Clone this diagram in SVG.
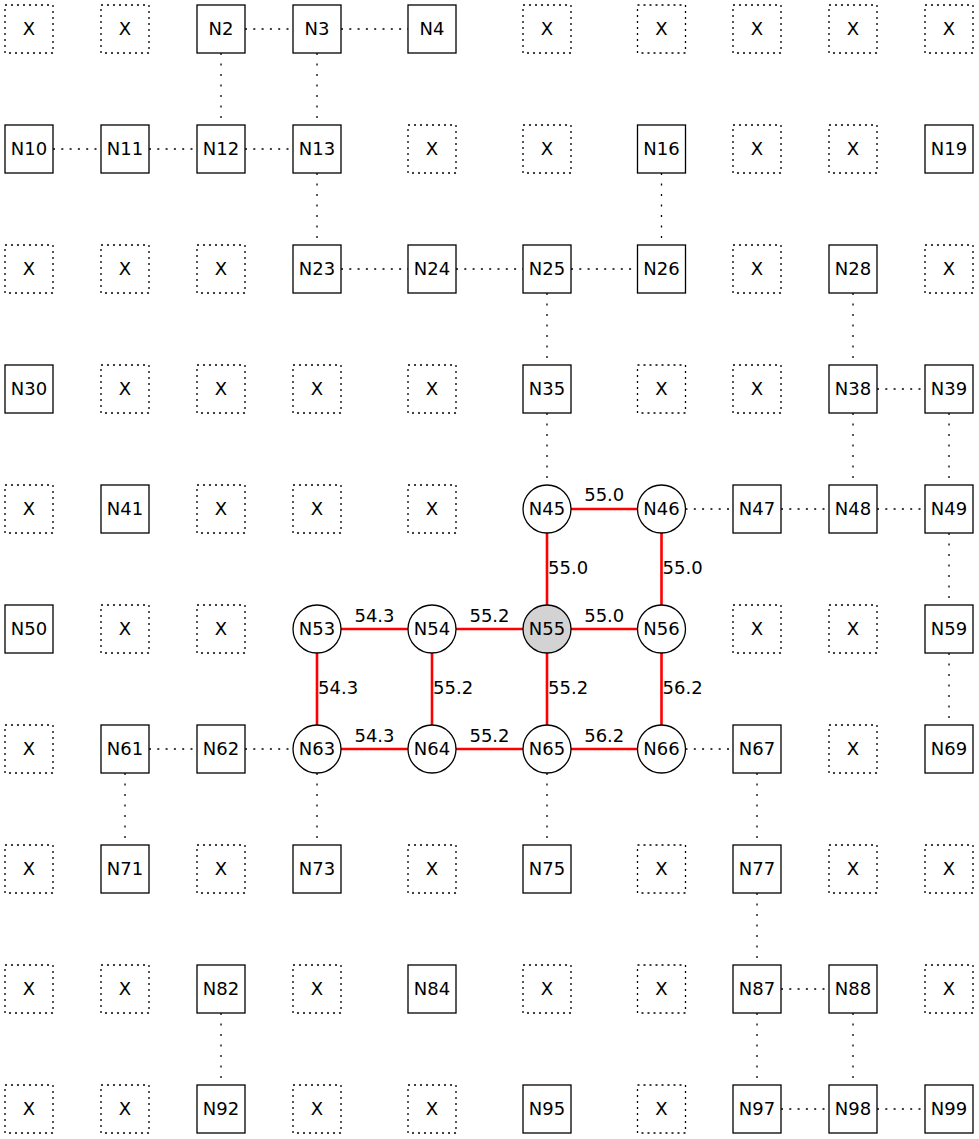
<svg xmlns="http://www.w3.org/2000/svg" width="979" height="1139" viewBox="0 0 979 1139">
<style>
text{font-family:"DejaVu Sans","Liberation Sans",sans-serif;font-size:18px;fill:#000}
.n text,.x text{text-anchor:middle}
.n rect,.n circle{fill:#fff;stroke:#000;stroke-width:1.3}
.x rect{fill:#fff;stroke:#000;stroke-width:1.3;stroke-dasharray:2,4}
.n circle.sel{fill:#d3d3d3}
.dh{stroke:#000;stroke-width:1.3;stroke-dasharray:2,6.3;fill:none}
.dv{stroke:#000;stroke-width:1.3;stroke-dasharray:2,8.5;fill:none}
.r{stroke:#f00;stroke-width:2.6;fill:none}
.lh{text-anchor:middle}
.lv{text-anchor:start}
</style>
<g id="connectors">
<path class="dh" d="M245,29H293M341,29H408M53,149H101M149,149H197M245,149H293M341,269H408M456,269H523M571,269H637.5M877,389H925M685.5,509H733M781,509H829M877,509H925M149,749H197M245,749H293M685.5,749H733M781,989H829M781,1109H829M877,1109H925"/>
<path class="dv" d="M221,53V125M317,53V125M317,173V245M661.5,173V245M547,293V365M853,293V365M547,413V485M853,413V485M949,413V485M949,533V605M949,653V725M125,773V845M317,773V845M547,773V845M757,773V845M757,893V965M221,1013V1085M757,1013V1085M853,1013V1085"/>
<g id="red-edges">
<path class="r" d="M571,509H637.5M547,533V605M661.5,533V605M341,629H408M456,629H523M571,629H637.5M317,653V725M432,653V725M547,653V725M661.5,653V725M341,749H408M456,749H523M571,749H637.5"/>
<text class="lh" x="604.25" y="501">55.0</text>
<text class="lv" x="548" y="574">55.0</text>
<text class="lv" x="662.5" y="574">55.0</text>
<text class="lh" x="374.5" y="621.5">54.3</text>
<text class="lh" x="489.5" y="621.5">55.2</text>
<text class="lh" x="604.25" y="621.5">55.0</text>
<text class="lv" x="318" y="694">54.3</text>
<text class="lv" x="433" y="694">55.2</text>
<text class="lv" x="548" y="694">55.2</text>
<text class="lv" x="662.5" y="694">56.2</text>
<text class="lh" x="374.5" y="741.5">54.3</text>
<text class="lh" x="489.5" y="741.5">55.2</text>
<text class="lh" x="604.25" y="741.5">56.2</text>
</g>
</g>
<g id="nodes">
<!-- row 0 -->
<g id="x0" class="x"><rect x="5" y="5" width="48" height="48"/><text x="29" y="34.5">X</text></g>
<g id="x1" class="x"><rect x="101" y="5" width="48" height="48"/><text x="125" y="34.5">X</text></g>
<g id="N2" class="n"><rect x="197" y="5" width="48" height="48"/><text x="221" y="34.5">N2</text></g>
<g id="N3" class="n"><rect x="293" y="5" width="48" height="48"/><text x="317" y="34.5">N3</text></g>
<g id="N4" class="n"><rect x="408" y="5" width="48" height="48"/><text x="432" y="34.5">N4</text></g>
<g id="x5" class="x"><rect x="523" y="5" width="48" height="48"/><text x="547" y="34.5">X</text></g>
<g id="x6" class="x"><rect x="637.5" y="5" width="48" height="48"/><text x="661.5" y="34.5">X</text></g>
<g id="x7" class="x"><rect x="733" y="5" width="48" height="48"/><text x="757" y="34.5">X</text></g>
<g id="x8" class="x"><rect x="829" y="5" width="48" height="48"/><text x="853" y="34.5">X</text></g>
<g id="x9" class="x"><rect x="925" y="5" width="48" height="48"/><text x="949" y="34.5">X</text></g>
<!-- row 1 -->
<g id="N10" class="n"><rect x="5" y="125" width="48" height="48"/><text x="29" y="154.5">N10</text></g>
<g id="N11" class="n"><rect x="101" y="125" width="48" height="48"/><text x="125" y="154.5">N11</text></g>
<g id="N12" class="n"><rect x="197" y="125" width="48" height="48"/><text x="221" y="154.5">N12</text></g>
<g id="N13" class="n"><rect x="293" y="125" width="48" height="48"/><text x="317" y="154.5">N13</text></g>
<g id="x14" class="x"><rect x="408" y="125" width="48" height="48"/><text x="432" y="154.5">X</text></g>
<g id="x15" class="x"><rect x="523" y="125" width="48" height="48"/><text x="547" y="154.5">X</text></g>
<g id="N16" class="n"><rect x="637.5" y="125" width="48" height="48"/><text x="661.5" y="154.5">N16</text></g>
<g id="x17" class="x"><rect x="733" y="125" width="48" height="48"/><text x="757" y="154.5">X</text></g>
<g id="x18" class="x"><rect x="829" y="125" width="48" height="48"/><text x="853" y="154.5">X</text></g>
<g id="N19" class="n"><rect x="925" y="125" width="48" height="48"/><text x="949" y="154.5">N19</text></g>
<!-- row 2 -->
<g id="x20" class="x"><rect x="5" y="245" width="48" height="48"/><text x="29" y="274.5">X</text></g>
<g id="x21" class="x"><rect x="101" y="245" width="48" height="48"/><text x="125" y="274.5">X</text></g>
<g id="x22" class="x"><rect x="197" y="245" width="48" height="48"/><text x="221" y="274.5">X</text></g>
<g id="N23" class="n"><rect x="293" y="245" width="48" height="48"/><text x="317" y="274.5">N23</text></g>
<g id="N24" class="n"><rect x="408" y="245" width="48" height="48"/><text x="432" y="274.5">N24</text></g>
<g id="N25" class="n"><rect x="523" y="245" width="48" height="48"/><text x="547" y="274.5">N25</text></g>
<g id="N26" class="n"><rect x="637.5" y="245" width="48" height="48"/><text x="661.5" y="274.5">N26</text></g>
<g id="x27" class="x"><rect x="733" y="245" width="48" height="48"/><text x="757" y="274.5">X</text></g>
<g id="N28" class="n"><rect x="829" y="245" width="48" height="48"/><text x="853" y="274.5">N28</text></g>
<g id="x29" class="x"><rect x="925" y="245" width="48" height="48"/><text x="949" y="274.5">X</text></g>
<!-- row 3 -->
<g id="N30" class="n"><rect x="5" y="365" width="48" height="48"/><text x="29" y="394.5">N30</text></g>
<g id="x31" class="x"><rect x="101" y="365" width="48" height="48"/><text x="125" y="394.5">X</text></g>
<g id="x32" class="x"><rect x="197" y="365" width="48" height="48"/><text x="221" y="394.5">X</text></g>
<g id="x33" class="x"><rect x="293" y="365" width="48" height="48"/><text x="317" y="394.5">X</text></g>
<g id="x34" class="x"><rect x="408" y="365" width="48" height="48"/><text x="432" y="394.5">X</text></g>
<g id="N35" class="n"><rect x="523" y="365" width="48" height="48"/><text x="547" y="394.5">N35</text></g>
<g id="x36" class="x"><rect x="637.5" y="365" width="48" height="48"/><text x="661.5" y="394.5">X</text></g>
<g id="x37" class="x"><rect x="733" y="365" width="48" height="48"/><text x="757" y="394.5">X</text></g>
<g id="N38" class="n"><rect x="829" y="365" width="48" height="48"/><text x="853" y="394.5">N38</text></g>
<g id="N39" class="n"><rect x="925" y="365" width="48" height="48"/><text x="949" y="394.5">N39</text></g>
<!-- row 4 -->
<g id="x40" class="x"><rect x="5" y="485" width="48" height="48"/><text x="29" y="514.5">X</text></g>
<g id="N41" class="n"><rect x="101" y="485" width="48" height="48"/><text x="125" y="514.5">N41</text></g>
<g id="x42" class="x"><rect x="197" y="485" width="48" height="48"/><text x="221" y="514.5">X</text></g>
<g id="x43" class="x"><rect x="293" y="485" width="48" height="48"/><text x="317" y="514.5">X</text></g>
<g id="x44" class="x"><rect x="408" y="485" width="48" height="48"/><text x="432" y="514.5">X</text></g>
<g id="N45" class="n"><circle cx="547" cy="509" r="24"/><text x="547" y="514.5">N45</text></g>
<g id="N46" class="n"><circle cx="661.5" cy="509" r="24"/><text x="661.5" y="514.5">N46</text></g>
<g id="N47" class="n"><rect x="733" y="485" width="48" height="48"/><text x="757" y="514.5">N47</text></g>
<g id="N48" class="n"><rect x="829" y="485" width="48" height="48"/><text x="853" y="514.5">N48</text></g>
<g id="N49" class="n"><rect x="925" y="485" width="48" height="48"/><text x="949" y="514.5">N49</text></g>
<!-- row 5 -->
<g id="N50" class="n"><rect x="5" y="605" width="48" height="48"/><text x="29" y="634.5">N50</text></g>
<g id="x51" class="x"><rect x="101" y="605" width="48" height="48"/><text x="125" y="634.5">X</text></g>
<g id="x52" class="x"><rect x="197" y="605" width="48" height="48"/><text x="221" y="634.5">X</text></g>
<g id="N53" class="n"><circle cx="317" cy="629" r="24"/><text x="317" y="634.5">N53</text></g>
<g id="N54" class="n"><circle cx="432" cy="629" r="24"/><text x="432" y="634.5">N54</text></g>
<g id="N55" class="n"><circle class="sel" cx="547" cy="629" r="24"/><text x="547" y="634.5">N55</text></g>
<g id="N56" class="n"><circle cx="661.5" cy="629" r="24"/><text x="661.5" y="634.5">N56</text></g>
<g id="x57" class="x"><rect x="733" y="605" width="48" height="48"/><text x="757" y="634.5">X</text></g>
<g id="x58" class="x"><rect x="829" y="605" width="48" height="48"/><text x="853" y="634.5">X</text></g>
<g id="N59" class="n"><rect x="925" y="605" width="48" height="48"/><text x="949" y="634.5">N59</text></g>
<!-- row 6 -->
<g id="x60" class="x"><rect x="5" y="725" width="48" height="48"/><text x="29" y="754.5">X</text></g>
<g id="N61" class="n"><rect x="101" y="725" width="48" height="48"/><text x="125" y="754.5">N61</text></g>
<g id="N62" class="n"><rect x="197" y="725" width="48" height="48"/><text x="221" y="754.5">N62</text></g>
<g id="N63" class="n"><circle cx="317" cy="749" r="24"/><text x="317" y="754.5">N63</text></g>
<g id="N64" class="n"><circle cx="432" cy="749" r="24"/><text x="432" y="754.5">N64</text></g>
<g id="N65" class="n"><circle cx="547" cy="749" r="24"/><text x="547" y="754.5">N65</text></g>
<g id="N66" class="n"><circle cx="661.5" cy="749" r="24"/><text x="661.5" y="754.5">N66</text></g>
<g id="N67" class="n"><rect x="733" y="725" width="48" height="48"/><text x="757" y="754.5">N67</text></g>
<g id="x68" class="x"><rect x="829" y="725" width="48" height="48"/><text x="853" y="754.5">X</text></g>
<g id="N69" class="n"><rect x="925" y="725" width="48" height="48"/><text x="949" y="754.5">N69</text></g>
<!-- row 7 -->
<g id="x70" class="x"><rect x="5" y="845" width="48" height="48"/><text x="29" y="874.5">X</text></g>
<g id="N71" class="n"><rect x="101" y="845" width="48" height="48"/><text x="125" y="874.5">N71</text></g>
<g id="x72" class="x"><rect x="197" y="845" width="48" height="48"/><text x="221" y="874.5">X</text></g>
<g id="N73" class="n"><rect x="293" y="845" width="48" height="48"/><text x="317" y="874.5">N73</text></g>
<g id="x74" class="x"><rect x="408" y="845" width="48" height="48"/><text x="432" y="874.5">X</text></g>
<g id="N75" class="n"><rect x="523" y="845" width="48" height="48"/><text x="547" y="874.5">N75</text></g>
<g id="x76" class="x"><rect x="637.5" y="845" width="48" height="48"/><text x="661.5" y="874.5">X</text></g>
<g id="N77" class="n"><rect x="733" y="845" width="48" height="48"/><text x="757" y="874.5">N77</text></g>
<g id="x78" class="x"><rect x="829" y="845" width="48" height="48"/><text x="853" y="874.5">X</text></g>
<g id="x79" class="x"><rect x="925" y="845" width="48" height="48"/><text x="949" y="874.5">X</text></g>
<!-- row 8 -->
<g id="x80" class="x"><rect x="5" y="965" width="48" height="48"/><text x="29" y="994.5">X</text></g>
<g id="x81" class="x"><rect x="101" y="965" width="48" height="48"/><text x="125" y="994.5">X</text></g>
<g id="N82" class="n"><rect x="197" y="965" width="48" height="48"/><text x="221" y="994.5">N82</text></g>
<g id="x83" class="x"><rect x="293" y="965" width="48" height="48"/><text x="317" y="994.5">X</text></g>
<g id="N84" class="n"><rect x="408" y="965" width="48" height="48"/><text x="432" y="994.5">N84</text></g>
<g id="x85" class="x"><rect x="523" y="965" width="48" height="48"/><text x="547" y="994.5">X</text></g>
<g id="x86" class="x"><rect x="637.5" y="965" width="48" height="48"/><text x="661.5" y="994.5">X</text></g>
<g id="N87" class="n"><rect x="733" y="965" width="48" height="48"/><text x="757" y="994.5">N87</text></g>
<g id="N88" class="n"><rect x="829" y="965" width="48" height="48"/><text x="853" y="994.5">N88</text></g>
<g id="x89" class="x"><rect x="925" y="965" width="48" height="48"/><text x="949" y="994.5">X</text></g>
<!-- row 9 -->
<g id="x90" class="x"><rect x="5" y="1085" width="48" height="48"/><text x="29" y="1114.5">X</text></g>
<g id="x91" class="x"><rect x="101" y="1085" width="48" height="48"/><text x="125" y="1114.5">X</text></g>
<g id="N92" class="n"><rect x="197" y="1085" width="48" height="48"/><text x="221" y="1114.5">N92</text></g>
<g id="x93" class="x"><rect x="293" y="1085" width="48" height="48"/><text x="317" y="1114.5">X</text></g>
<g id="x94" class="x"><rect x="408" y="1085" width="48" height="48"/><text x="432" y="1114.5">X</text></g>
<g id="N95" class="n"><rect x="523" y="1085" width="48" height="48"/><text x="547" y="1114.5">N95</text></g>
<g id="x96" class="x"><rect x="637.5" y="1085" width="48" height="48"/><text x="661.5" y="1114.5">X</text></g>
<g id="N97" class="n"><rect x="733" y="1085" width="48" height="48"/><text x="757" y="1114.5">N97</text></g>
<g id="N98" class="n"><rect x="829" y="1085" width="48" height="48"/><text x="853" y="1114.5">N98</text></g>
<g id="N99" class="n"><rect x="925" y="1085" width="48" height="48"/><text x="949" y="1114.5">N99</text></g>
</g>
</svg>
